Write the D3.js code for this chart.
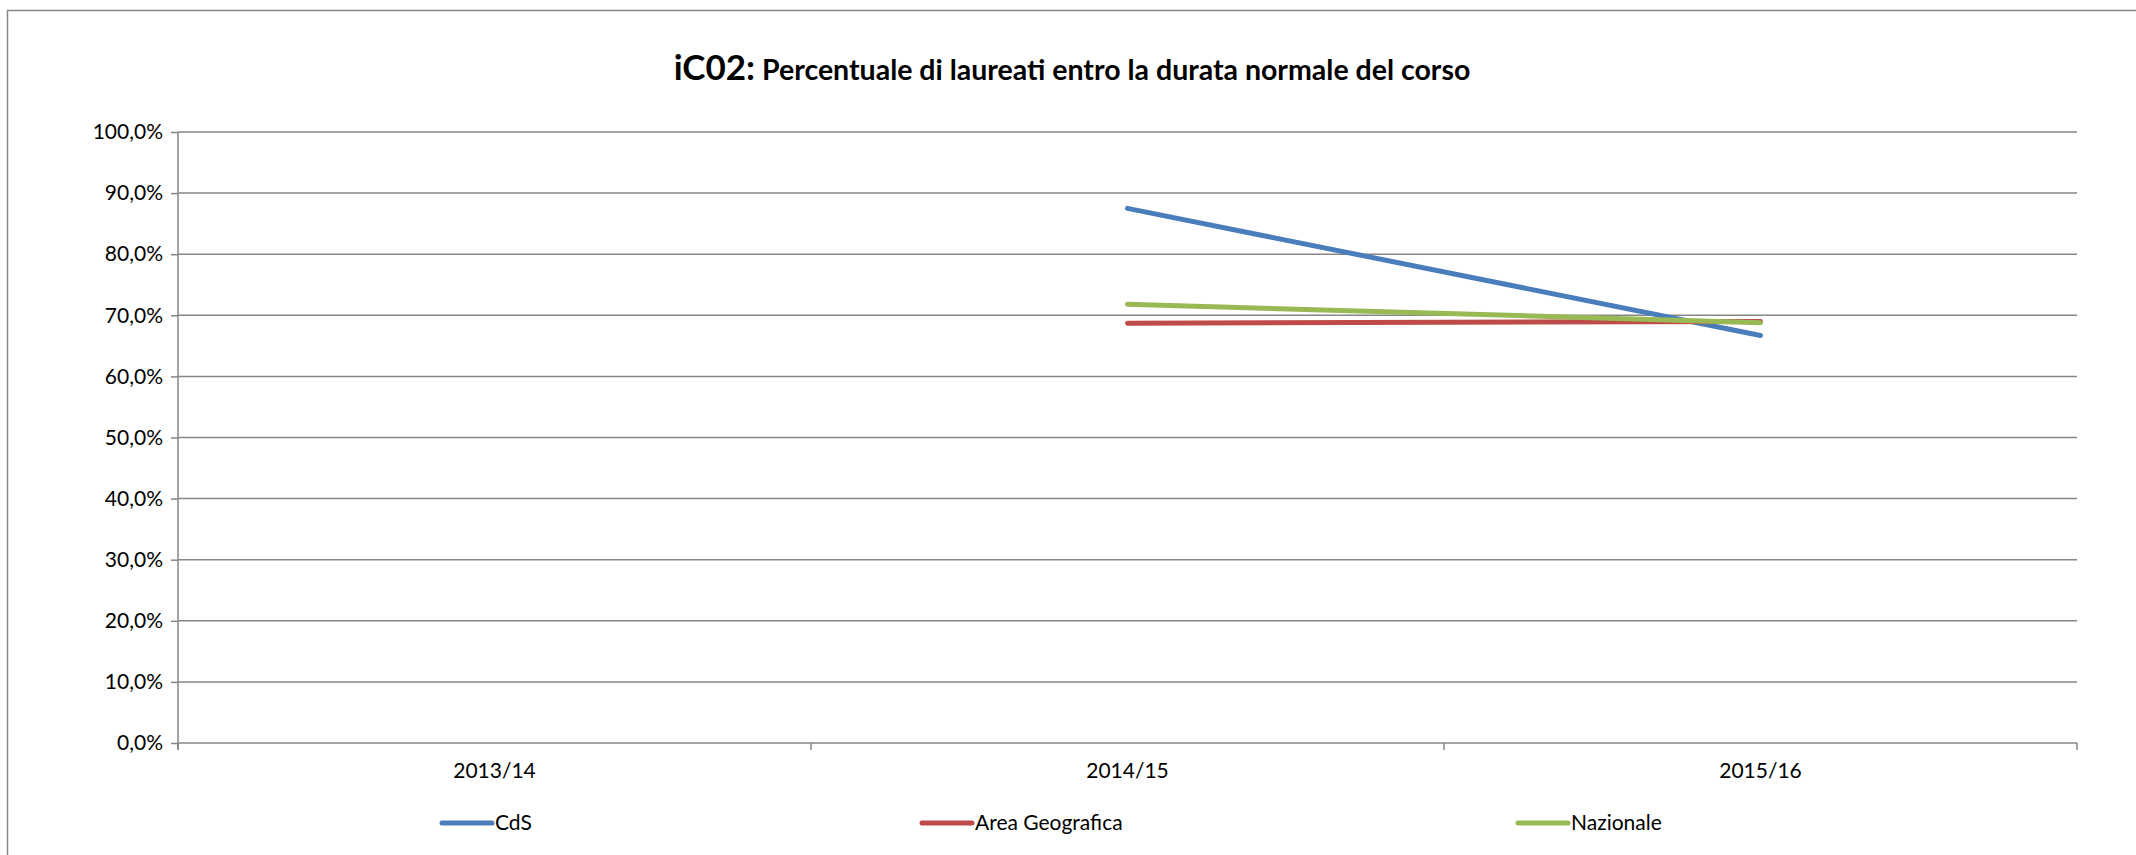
<!DOCTYPE html>
<html>
<head>
<meta charset="utf-8">
<script src="https://cdn.jsdelivr.net/npm/d3@7"></script>
<style>
  html, body { margin: 0; padding: 0; background: #fff; overflow: hidden; }
  #chart svg { display: block; font-family: Lato, "Open Sans", sans-serif; }
</style>
</head>
<body>
<div id="chart"></div>
<script>
// Data
const categories = ['2013/14', '2014/15', '2015/16'];
const seriesNames = ['CdS', 'Area Geografica', 'Nazionale'];
const cds = [null, 87.5, 66.7];
const areaGeografica = [null, 68.7, 69.0];
const nazionale = [null, 71.8, 68.8];
const yTicks = [0, 10, 20, 30, 40, 50, 60, 70, 80, 90, 100];

const FONT = 'Lato, "Open Sans", sans-serif';

const Chart = {
  init() {
    this.wrapper = document.querySelector('#chart');
    this.series = [
      { name: seriesNames[0], values: cds, color: '#4A7EBB' },
      { name: seriesNames[1], values: areaGeografica, color: '#BE4B48' },
      { name: seriesNames[2], values: nazionale, color: '#98B954' },
    ];

    this.setVar();
    this.create();
    this.scales();
    this.axis();
    this.lines();
    this.title();
    this.legend();
  },

  setVar() {
    this.gridColor = '#868686';
    this.W = 2136;
    this.H = 855;

    // Margins
    this.margin = {
      left: 178,
      right: 59,
      top: 132,
      bottom: 112,
    };

    this.width = this.W - this.margin.left - this.margin.right;
    this.height = this.H - this.margin.top - this.margin.bottom;
  },

  create() {
    this.svg = d3.select('#chart').append('svg')
      .attr('width', this.W)
      .attr('height', this.H);

    // chart frame: only top and left edges are inside the picture
    this.svg.append('path')
      .attr('d', `M7.5,${this.H}V10.5H${this.W}`)
      .attr('fill', 'none')
      .attr('stroke', this.gridColor)
      .attr('stroke-width', 1.5);

    this.g = this.svg.append('g')
      .attr('transform', `translate(${this.margin.left} ${this.margin.top})`);
  },

  scales() {
    this.y = d3.scaleLinear()
      .domain([0, 100])
      .range([this.height, 0]);

    this.x = d3.scaleBand()
      .domain(categories)
      .range([0, this.width]);
  },

  axis() {
    const fmt = (d) => d3.format('.1f')(d).replace('.', ',') + '%';

    // gridlines
    this.g.append('g')
      .selectAll('line')
      .data(yTicks)
      .join('line')
      .attr('x1', 0)
      .attr('x2', this.width)
      .attr('y1', (d) => this.y(d))
      .attr('y2', (d) => this.y(d))
      .attr('stroke', this.gridColor)
      .attr('stroke-width', 1.5);

    this.ay = d3.axisLeft(this.y)
      .tickValues(yTicks)
      .tickSize(7)
      .tickPadding(8)
      .tickFormat(fmt);
    this.ayCall = this.g.append('g').call(this.ay)
      .attr('font-family', FONT);
    this.ayCall.select('.domain').remove();

    this.ayCall.selectAll('line')
      .attr('stroke', this.gridColor)
      .attr('stroke-width', 1.5);
    this.ayCall.selectAll('text')
      .attr('font-size', '21px')
      .attr('fill', '#000');

    // y axis line
    this.g.append('line')
      .attr('x1', 0).attr('x2', 0)
      .attr('y1', 0).attr('y2', this.height + 7)
      .attr('stroke', this.gridColor)
      .attr('stroke-width', 1.5);

    // x axis: ticks between categories
    const bounds = categories.map((c) => this.x(c)).concat([this.width]);
    this.g.append('g')
      .selectAll('line')
      .data(bounds)
      .join('line')
      .attr('x1', (d) => d)
      .attr('x2', (d) => d)
      .attr('y1', this.height)
      .attr('y2', this.height + 7)
      .attr('stroke', this.gridColor)
      .attr('stroke-width', 1.5);

    this.ax = d3.axisBottom(this.x)
      .tickSize(0)
      .tickPadding(20);
    this.axCall = this.g.append('g')
      .attr('transform', `translate(0, ${this.height})`)
      .call(this.ax)
      .attr('font-family', FONT);
    this.axCall.select('.domain').remove();
    this.axCall.selectAll('text')
      .attr('font-size', '21px')
      .attr('fill', '#000');
  },

  lines() {
    const bw = this.x.bandwidth() / 2;
    const line = d3.line()
      .defined((d) => d.v != null)
      .x((d) => this.x(d.c) + bw)
      .y((d) => this.y(d.v));

    this.series.forEach((s) => {
      const pts = categories.map((c, i) => ({ c, v: s.values[i] }));
      this.g.append('path')
        .attr('d', line(pts))
        .attr('fill', 'none')
        .attr('stroke', s.color)
        .attr('stroke-width', 5)
        .attr('stroke-linecap', 'round');
    });
  },

  title() {
    const t = this.svg.append('text')
      .attr('x', 1072)
      .attr('y', 80)
      .attr('text-anchor', 'middle')
      .attr('font-weight', 'bold')
      .attr('fill', '#000');
    t.append('tspan').attr('font-size', '35px').text('iC02:');
    t.append('tspan').attr('font-size', '28.5px').text(' Percentuale di laureati entro la durata normale del corso');
  },

  legend() {
    const xs = [440, 920, 1516];
    const ly = 823;
    this.series.forEach((s, i) => {
      this.svg.append('line')
        .attr('x1', xs[i] + 2)
        .attr('x2', xs[i] + 52)
        .attr('y1', ly)
        .attr('y2', ly)
        .attr('stroke', s.color)
        .attr('stroke-width', 5)
        .attr('stroke-linecap', 'round');
      this.svg.append('text')
        .attr('x', xs[i] + 55)
        .attr('y', ly)
        .attr('dy', '0.35em')
        .attr('font-size', '21px')
        .attr('fill', '#000')
        .text(s.name);
    });
  },
};

Chart.init();
</script>
</body>
</html>
